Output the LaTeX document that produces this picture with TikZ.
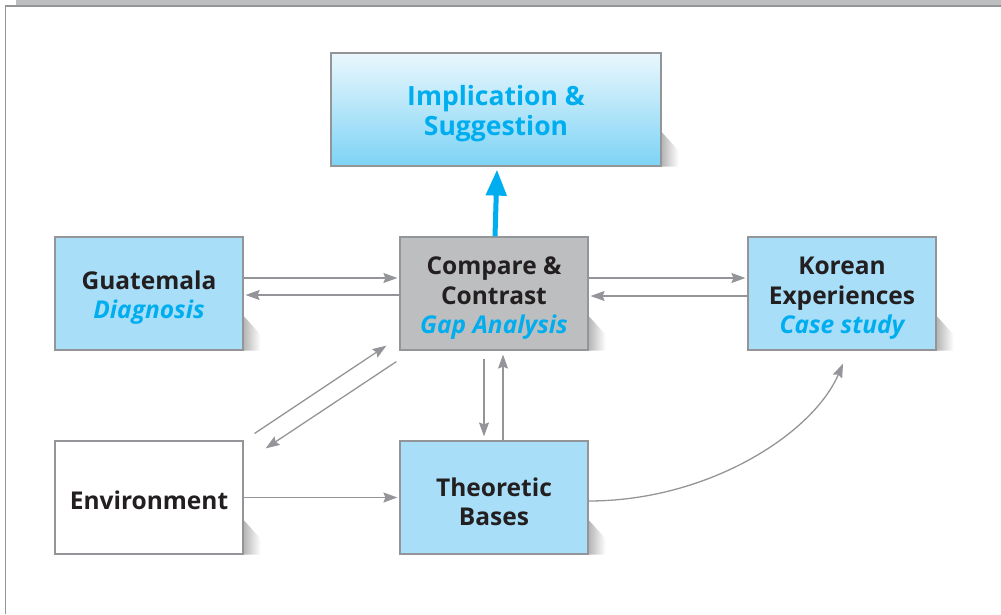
\documentclass[tikz,border=0pt]{standalone}
\usepackage{fontspec}
\setmainfont{Open Sans}
\usetikzlibrary{arrows.meta,calc}
\definecolor{boxblue}{HTML}{A8DEF8}
\definecolor{cyantext}{HTML}{00AEEF}
\definecolor{edgegray}{HTML}{939598}
\definecolor{boxgray}{HTML}{BCBEC0}
\definecolor{inkdark}{HTML}{231F20}
\definecolor{skytop}{HTML}{EAF7FD}
\definecolor{skybottom}{HTML}{7DD3F5}

% tall first-line strut: sits the text block a little lower in its box
\newcommand\tallstrut[1][27pt]{\rule{0pt}{#1}}

% soft cast shade at the lower right corner of a box
\newcommand\castshade[1]{%
  \shade[left color=black!28, right color=white]
    ($(#1.south east)+(0.6,-34)$) -- ($(#1.south east)+(17,-16)$)
    -- ($(#1.south east)+(17,0)$) -- ($(#1.south east)+(0.6,0)$) -- cycle;}

\begin{document}
\begin{tikzpicture}[x=1pt,y=-1pt,
  card/.style={draw=edgegray, line width=1.2pt, minimum width=188pt,
    minimum height=113pt, align=center, inner sep=0pt, text=inkdark,
    font=\fontsize{24.5}{29.5}\selectfont\bfseries},
  bluecard/.style={card, fill=boxblue},
  arr/.style={draw=edgegray, line width=1.3pt,
    -{Stealth[length=14pt,width=10pt,inset=2pt]}},
  bigarr/.style={draw=cyantext, line width=5pt,
    -{Triangle[length=26pt,width=20pt]}}]
\useasboundingbox (0,0) rectangle (1001,614);

% page frame
\fill[boxgray] (16,0) rectangle (1001,5);
\draw[edgegray, line width=1.5pt] (5.5,614) -- (5.5,6) -- (1001,6);

% boxes
\node[card, minimum width=330pt, top color=skytop, bottom color=skybottom,
  text=cyantext, font=\fontsize{26.5}{30}\selectfont\bfseries]
  (impl) at (496,109.5) {\tallstrut[29pt]Implication \&\\Suggestion};
\node[bluecard] (guat) at (149,293.5) {\tallstrut Guatemala\\\textcolor{cyantext}{\itshape Diagnosis}};
\node[card, fill=boxgray] (comp) at (494,293.5) {\tallstrut Compare \&\\Contrast\\\textcolor{cyantext}{\itshape Gap Analysis}};
\node[bluecard] (kor) at (842,293.5) {\tallstrut Korean\\Experiences\\\textcolor{cyantext}{\itshape Case study}};
\node[card, fill=white] (env) at (149,497.5) {\tallstrut[24pt]Environment};
\node[bluecard] (theo) at (494,497.5) {\tallstrut Theoretic\\Bases};

\castshade{impl}
\castshade{guat}
\castshade{comp}
\castshade{kor}
\castshade{env}
\castshade{theo}

% connectors
\draw[bigarr] ([xshift=1pt]comp.north) -- ([xshift=1pt,yshift=-3pt]impl.south);

\draw[arr, shorten >=2pt] ([yshift=15.5pt]guat.east) -- ([yshift=15.5pt]comp.west);
\draw[arr, shorten >=2pt] ([yshift=-1.5pt]comp.west) -- ([yshift=-1.5pt]guat.east);
\draw[arr, shorten >=2pt] ([yshift=15.5pt]comp.east) -- ([yshift=15.5pt]kor.west);
\draw[arr, shorten >=2pt] ([yshift=-2.5pt]kor.west) -- ([yshift=-2.5pt]comp.east);

\draw[arr, shorten <=8pt, shorten >=4pt] ([xshift=-10pt]comp.south) -- ([xshift=-10pt]theo.north);
\draw[arr, shorten >=4pt] ([xshift=9pt]theo.north) -- ([xshift=9pt]comp.south);

\draw[arr] ([shift={(11,-7)}]env.north east) -- ([shift={(-13,-5)}]comp.south west);
\draw[arr] ([shift={(-3,11)}]comp.south west) -- ([shift={(22,8)}]env.north east);

\draw[arr, shorten >=2pt] (env.east) -- (theo.west);
\draw[arr] ([yshift=-3.5pt]theo.east) .. controls +(120,0) and +(-30,70) .. ([shift={(1,13)}]kor.south);
\end{tikzpicture}
\end{document}
